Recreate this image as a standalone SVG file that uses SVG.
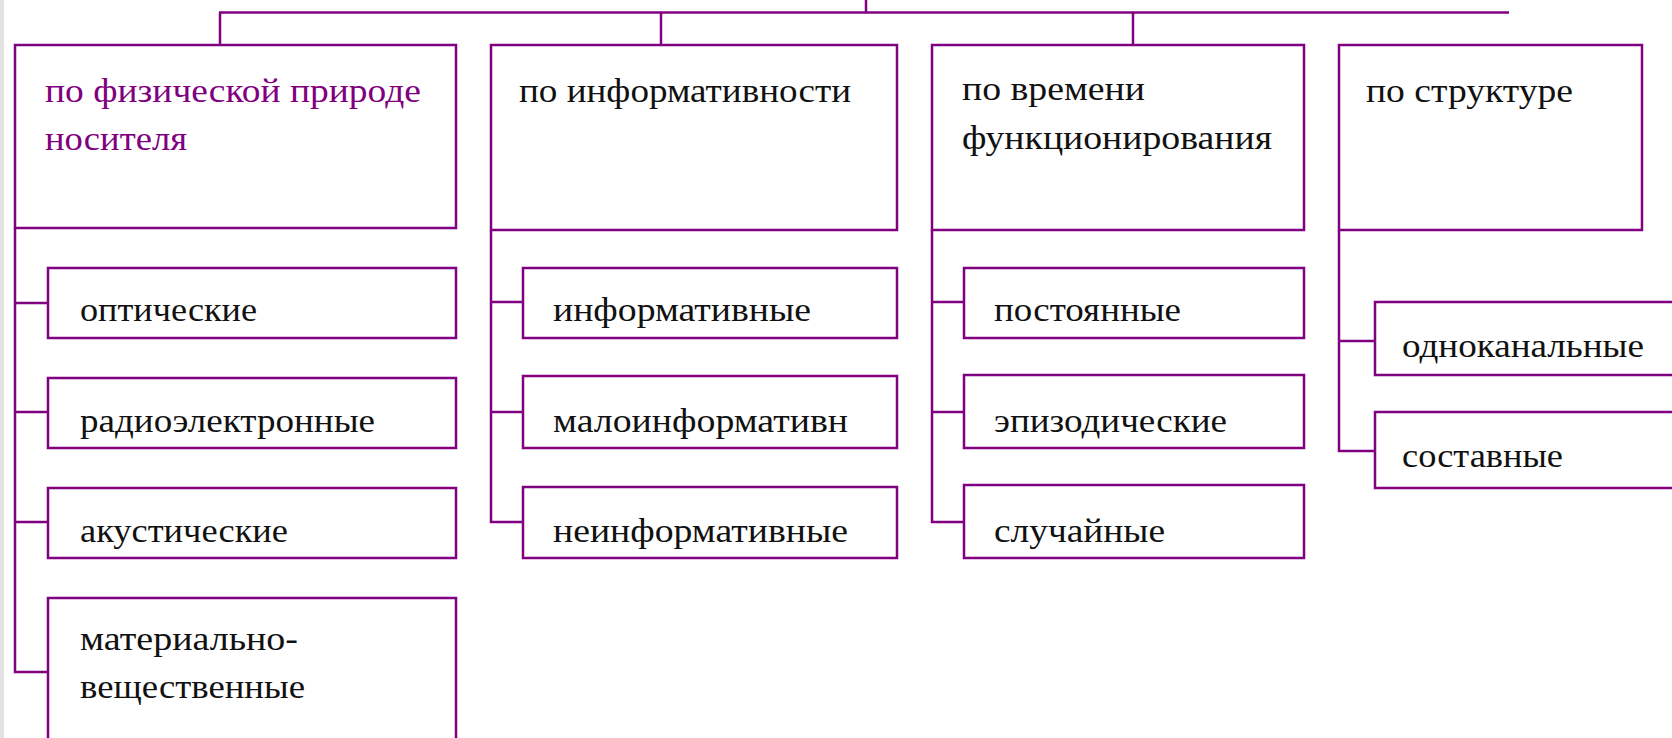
<svg xmlns="http://www.w3.org/2000/svg" width="1672" height="738" viewBox="0 0 1672 738">
<style>
.box{fill:#ffffff;stroke:#800080;stroke-width:2.5}
.ln{fill:none;stroke:#800080;stroke-width:2.5}
.t{font-size:34px;fill:#111111}
.tp{fill:#800080}
</style>
<rect x="0" y="0" width="1672" height="738" fill="#ffffff"/>
<rect x="0" y="0" width="4" height="738" fill="#e2e2e2"/>
<g id="connectors">
<line class="ln" x1="866" y1="0" x2="866" y2="12.5"/>
<line class="ln" x1="219" y1="12.5" x2="1509" y2="12.5"/>
<line class="ln" x1="220" y1="12.5" x2="220" y2="45"/>
<line class="ln" x1="661" y1="12.5" x2="661" y2="45"/>
<line class="ln" x1="1133" y1="12.5" x2="1133" y2="45"/>
<polyline class="ln" points="15,228 15,672 48,672"/>
<line class="ln" x1="15" y1="303" x2="48" y2="303"/>
<line class="ln" x1="15" y1="412" x2="48" y2="412"/>
<line class="ln" x1="15" y1="522" x2="48" y2="522"/>
<polyline class="ln" points="491,230 491,522 523,522"/>
<line class="ln" x1="491" y1="302" x2="523" y2="302"/>
<line class="ln" x1="491" y1="412" x2="523" y2="412"/>
<polyline class="ln" points="932,230 932,522 964,522"/>
<line class="ln" x1="932" y1="302" x2="964" y2="302"/>
<line class="ln" x1="932" y1="412" x2="964" y2="412"/>
<polyline class="ln" points="1339,230 1339,451 1375,451"/>
<line class="ln" x1="1339" y1="341" x2="1375" y2="341"/>
</g>
<g font-family="Liberation Serif, Times New Roman, DejaVu Serif, serif">
<g id="n-physical">
<rect class="box" x="15" y="45" width="441" height="183"/>
<text class="t tp" x="45" y="102" textLength="376" lengthAdjust="spacingAndGlyphs">по физической природе</text>
<text class="t tp" x="45" y="150" textLength="142" lengthAdjust="spacingAndGlyphs">носителя</text>
</g>
<g id="n-info">
<rect class="box" x="491" y="45" width="406" height="185"/>
<text class="t" x="519" y="102" textLength="332" lengthAdjust="spacingAndGlyphs">по информативности</text>
</g>
<g id="n-time">
<rect class="box" x="932" y="45" width="372" height="185"/>
<text class="t" x="962" y="100" textLength="183" lengthAdjust="spacingAndGlyphs">по времени</text>
<text class="t" x="962" y="149" textLength="310" lengthAdjust="spacingAndGlyphs">функционирования</text>
</g>
<g id="n-structure">
<rect class="box" x="1339" y="45" width="303" height="185"/>
<text class="t" x="1366" y="102" textLength="207" lengthAdjust="spacingAndGlyphs">по структуре</text>
</g>
<g id="n-optical">
<rect class="box" x="48" y="268" width="408" height="70"/>
<text class="t" x="80" y="321" textLength="177" lengthAdjust="spacingAndGlyphs">оптические</text>
</g>
<g id="n-radio">
<rect class="box" x="48" y="378" width="408" height="70"/>
<text class="t" x="80" y="432" textLength="295" lengthAdjust="spacingAndGlyphs">радиоэлектронные</text>
</g>
<g id="n-acoustic">
<rect class="box" x="48" y="488" width="408" height="70"/>
<text class="t" x="80" y="542" textLength="208" lengthAdjust="spacingAndGlyphs">акустические</text>
</g>
<g id="n-material">
<rect class="box" x="48" y="598" width="408" height="160"/>
<text class="t" x="80" y="650" textLength="218" lengthAdjust="spacingAndGlyphs">материально-</text>
<text class="t" x="80" y="698" textLength="225" lengthAdjust="spacingAndGlyphs">вещественные</text>
</g>
<g id="n-informative">
<rect class="box" x="523" y="268" width="374" height="70"/>
<text class="t" x="553" y="321" textLength="258" lengthAdjust="spacingAndGlyphs">информативные</text>
</g>
<g id="n-lowinfo">
<rect class="box" x="523" y="376" width="374" height="72"/>
<text class="t" x="553" y="432" textLength="295" lengthAdjust="spacingAndGlyphs">малоинформативн</text>
</g>
<g id="n-noninfo">
<rect class="box" x="523" y="487" width="374" height="71"/>
<text class="t" x="553" y="542" textLength="295" lengthAdjust="spacingAndGlyphs">неинформативные</text>
</g>
<g id="n-constant">
<rect class="box" x="964" y="268" width="340" height="70"/>
<text class="t" x="994" y="321" textLength="187" lengthAdjust="spacingAndGlyphs">постоянные</text>
</g>
<g id="n-episodic">
<rect class="box" x="964" y="375" width="340" height="73"/>
<text class="t" x="994" y="432" textLength="233" lengthAdjust="spacingAndGlyphs">эпизодические</text>
</g>
<g id="n-random">
<rect class="box" x="964" y="485" width="340" height="73"/>
<text class="t" x="994" y="542" textLength="171" lengthAdjust="spacingAndGlyphs">случайные</text>
</g>
<g id="n-single">
<rect class="box" x="1375" y="302" width="320" height="73"/>
<text class="t" x="1402" y="357" textLength="242" lengthAdjust="spacingAndGlyphs">одноканальные</text>
</g>
<g id="n-composite">
<rect class="box" x="1375" y="412" width="320" height="76"/>
<text class="t" x="1402" y="467" textLength="161" lengthAdjust="spacingAndGlyphs">составные</text>
</g>
</g>
</svg>
